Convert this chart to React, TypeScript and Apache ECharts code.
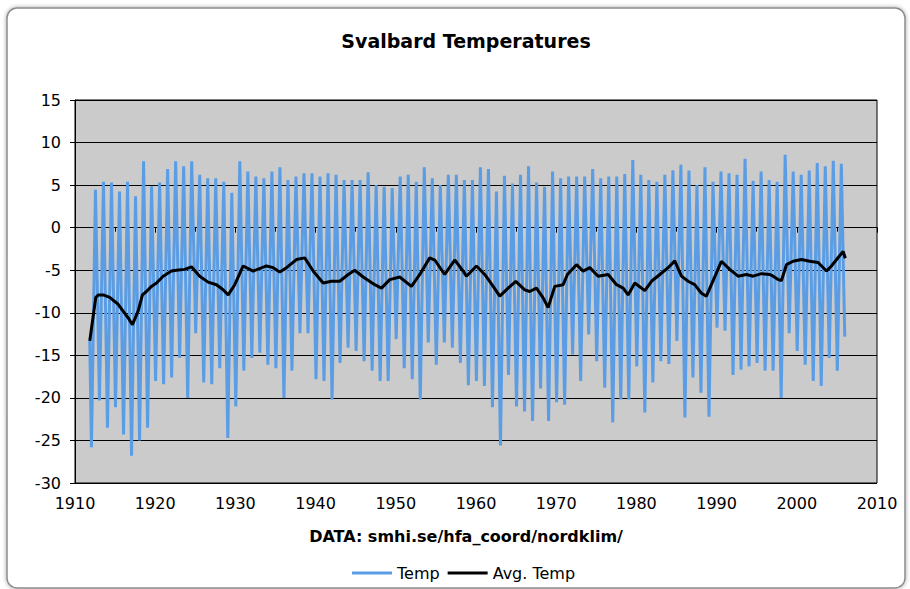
import React, { useEffect, useRef } from "react";
import * as echarts from "echarts";

// Monthly series summarised per year: winter trough and summer peak (°C)
const years: number[] = [];
for (let y = 1912; y <= 2005; y++) years.push(y);

const summerPeaks = [
  4.45, 5.4, 5.3, 4.25, 5.4, 3.7, 7.8, 4.85, 5.3, 6.9,
  7.8, 7.2, 7.8, 6.2, 5.8, 5.8, 5.4, 4.1, 7.8, 6.6, 6.0, 5.8,
  6.6, 7.1, 5.6, 6.0, 6.4, 6.4, 6.0, 6.4, 6.2, 5.6, 5.6, 5.6, 6.5,
  5.0, 4.8, 4.65, 6.0, 6.2, 5.4, 7.1, 5.8, 5.0, 6.2, 6.2, 5.6,
  5.6, 7.1, 6.9, 4.25, 6.1, 5.2, 6.2, 7.2, 5.3, 4.8, 6.6, 5.8, 6.0,
  6.0, 6.0, 6.9, 5.8, 6.0, 6.0, 6.3, 7.95, 6.2, 5.6, 5.4, 6.2,
  6.75, 7.4, 6.7, 5.0, 7.1, 5.4, 6.6, 6.4, 6.2, 8.1, 5.5, 6.6, 5.6,
  5.4, 8.55, 6.6, 6.2, 6.7, 7.6, 7.2, 7.85, 7.5,
];

const winterTroughs = [
  -25.8, -20.3, -23.5, -21.1, -24.3, -26.8, -25.0, -23.5, -18.0, -18.4,
  -17.6, -15.3, -20.0, -12.4, -18.2, -18.4, -16.5, -24.7, -21.0, -16.8, -15.3, -14.7,
  -16.1, -16.5, -20.0, -16.8, -12.4, -12.4, -17.8, -18.0, -20.2, -15.9, -14.1, -14.5, -15.7,
  -16.8, -18.0, -18.0, -13.1, -16.5, -17.8, -20.2, -13.5, -16.1, -13.5, -14.1, -15.9,
  -18.5, -18.0, -18.6, -21.1, -25.6, -17.3, -21.0, -21.6, -22.7, -18.9, -22.7, -20.5, -20.8,
  -14.9, -18.0, -12.55, -15.7, -18.8, -22.9, -20.2, -20.2, -16.3, -21.7, -18.2, -15.7,
  -16.0, -13.3, -22.3, -17.6, -19.4, -22.2, -11.75, -12.1, -17.3, -16.7, -16.3, -15.9, -16.8,
  -16.8, -20.0, -12.4, -14.5, -16.1, -18.0, -18.6, -15.3, -16.8,
];

const firstPoint = [1911.84, -13.3];
const lastPoint = [2005.98, -12.8];

// Running average
const avgYears = [
  1911.84, 1912.59, 1912.89, 1913.51, 1914.33, 1915.38, 1916.0, 1916.63, 1917.16, 1917.87,
  1918.41, 1918.91, 1919.53, 1920.16, 1920.99, 1922.03, 1922.65, 1923.68, 1924.52, 1925.55,
  1926.6, 1927.64, 1928.47, 1929.1, 1929.92, 1930.97, 1932.21, 1933.87, 1934.71, 1935.53,
  1936.37, 1937.61, 1938.65, 1939.69, 1940.94, 1941.98, 1943.01, 1944.06, 1944.88, 1945.93,
  1947.38, 1948.21, 1949.25, 1950.49, 1951.95, 1952.99, 1954.23, 1954.86, 1956.1, 1957.35,
  1958.4, 1958.81, 1960.06, 1961.09, 1962.14, 1962.96, 1964.01, 1964.96, 1966.08, 1966.7,
  1967.54, 1968.37, 1968.99, 1969.82, 1970.87, 1971.4, 1972.53, 1973.36, 1974.19, 1975.23,
  1976.48, 1977.52, 1978.35, 1978.97, 1979.8, 1981.05, 1981.88, 1982.92, 1983.96, 1984.78,
  1985.62, 1986.45, 1987.27, 1988.11, 1988.73, 1989.35, 1990.6, 1991.64, 1992.68, 1993.72,
  1994.56, 1995.59, 1996.63, 1997.05, 1997.67, 1998.09, 1998.71, 1999.54, 2000.58, 2001.61,
  2002.66, 2003.7, 2004.32, 2005.16, 2005.78, 2006.05,
];
const avgTemps = [
  -13.3, -8.2, -7.9, -7.9, -8.2, -9.0, -9.8, -10.6, -11.4, -9.8,
  -7.9, -7.5, -6.9, -6.5, -5.7, -5.1, -5.0, -4.9, -4.6, -5.7,
  -6.4, -6.7, -7.3, -7.9, -6.7, -4.5, -5.1, -4.5, -4.7, -5.2,
  -4.7, -3.75, -3.55, -5.1, -6.5, -6.3, -6.3, -5.5, -5.0, -5.8,
  -6.7, -7.1, -6.1, -5.8, -6.9, -5.5, -3.55, -3.8, -5.5, -3.8,
  -5.1, -5.7, -4.5, -5.5, -6.9, -8.05, -7.1, -6.3, -7.3, -7.5,
  -7.1, -8.25, -9.4, -6.9, -6.7, -5.5, -4.35, -5.1, -4.7, -5.7,
  -5.5, -6.7, -7.1, -7.9, -6.5, -7.4, -6.3, -5.5, -4.7, -3.9,
  -5.7, -6.3, -6.7, -7.7, -8.05, -6.7, -3.95, -4.9, -5.7, -5.5,
  -5.7, -5.4, -5.5, -5.7, -6.1, -6.2, -4.35, -3.95, -3.75, -3.95,
  -4.1, -5.1, -4.5, -3.5, -2.8, -3.6,
];

const xTicks = { min: 1910, max: 2010, step: 10 };
const yTicks = { min: -30, max: 15, step: 5 };

export default function App() {
  const ref = useRef<HTMLDivElement>(null);
  useEffect(() => {
    if (!ref.current) return;
    const chart = echarts.init(ref.current, null, { renderer: "svg" });

    const tempData: number[][] = [firstPoint];
    years.forEach((y, i) => {
      tempData.push([y + 0.05, winterTroughs[i]]);
      tempData.push([y + 0.55, summerPeaks[i]]);
    });
    tempData.push(lastPoint);
    const avgData = avgYears.map((y, i) => [y, avgTemps[i]]);

    const font = "DejaVu Sans";
    chart.setOption({
      animation: false,
      backgroundColor: "#ffffff",
      graphic: [
        {
          type: "rect",
          z: -100,
          shape: { x: 7, y: 8, width: 898, height: 580, r: 10 },
          style: {
            fill: "#ffffff",
            stroke: "#8c8c8c",
            lineWidth: 1.5,
            shadowBlur: 4,
            shadowColor: "rgba(0,0,0,0.35)",
          },
        },
        {
          type: "text",
          x: 466,
          y: 41,
          style: {
            text: "Svalbard Temperatures",
            font: `bold 19px "${font}"`,
            fill: "#000",
            textAlign: "center",
            textVerticalAlign: "middle",
          },
        },
        {
          type: "text",
          x: 466,
          y: 536,
          style: {
            text: "DATA: smhi.se/hfa_coord/nordklim/",
            font: `bold 16px "${font}"`,
            fill: "#000",
            textAlign: "center",
            textVerticalAlign: "middle",
          },
        },
      ],
      legend: {
        data: ["Temp", "Avg. Temp"],
        left: 350,
        top: 563,
        padding: 2,
        icon: "rect",
        itemWidth: 40,
        itemHeight: 3,
        itemGap: 8,
        textStyle: { fontFamily: font, fontSize: 16, color: "#000" },
      },
      grid: {
        left: 75,
        right: 33,
        top: 100,
        bottom: 106,
        show: true,
        backgroundColor: "#cbcbcb",
        borderColor: "#000",
        borderWidth: 1,
      },
      xAxis: {
        type: "value",
        min: xTicks.min,
        max: xTicks.max,
        interval: xTicks.step,
        axisLine: { show: true, lineStyle: { color: "#000", width: 1 } },
        axisTick: { show: true, length: 5, lineStyle: { color: "#000" } },
        minorTick: { show: true, splitNumber: 2, length: 4, lineStyle: { color: "#000" } },
        splitLine: { show: false },
        axisLabel: {
          formatter: (v: number) => String(v),
          fontFamily: font,
          fontSize: 16,
          color: "#000",
          margin: 12,
        },
      },
      yAxis: {
        type: "value",
        min: yTicks.min,
        max: yTicks.max,
        interval: yTicks.step,
        axisLine: { show: true, lineStyle: { color: "#000", width: 1 } },
        axisTick: { show: true, length: 5, lineStyle: { color: "#000" } },
        splitLine: { show: true, lineStyle: { color: "#000", width: 1 } },
        axisLabel: {
          fontFamily: font,
          fontSize: 16,
          color: "#000",
          margin: 14,
        },
      },
      series: [
        {
          name: "Temp",
          type: "line",
          data: tempData,
          symbol: "none",
          color: "#5b9de5",
          lineStyle: { color: "#5b9de5", width: 3 },
          z: 2,
        },
        {
          name: "Avg. Temp",
          type: "line",
          data: avgData,
          symbol: "none",
          color: "#000000",
          lineStyle: { color: "#000000", width: 3 },
          z: 3,
        },
      ],
    });
    return () => chart.dispose();
  }, []);
  return (
    <div
      ref={ref}
      style={{ position: "absolute", left: 0, top: 0, width: 910, height: 589 }}
    />
  );
}
